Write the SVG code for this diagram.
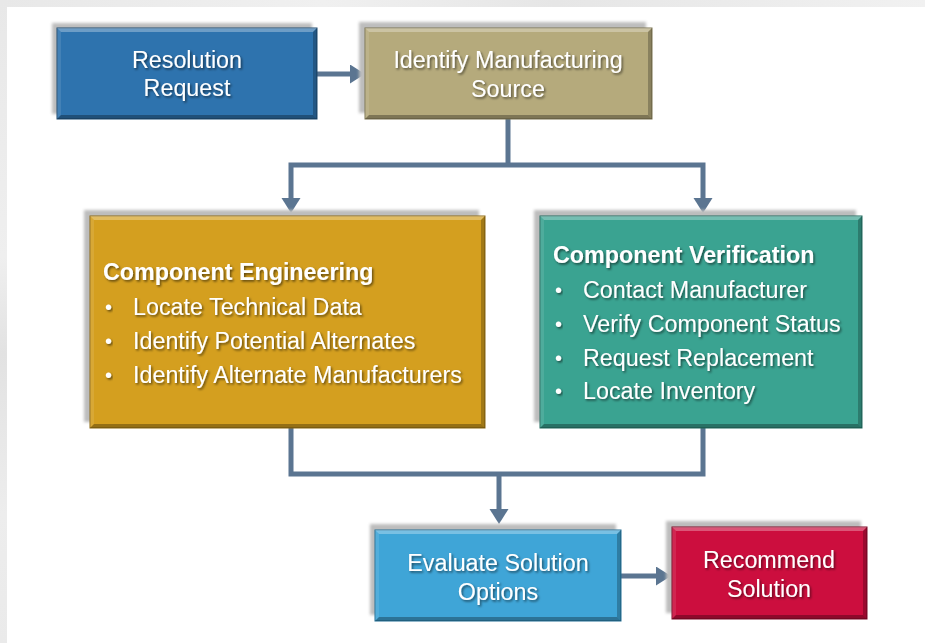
<svg xmlns="http://www.w3.org/2000/svg" width="925" height="643" viewBox="0 0 925 643">
  <style>
    .shadow { fill: #bdbdbd; filter: url(#soft); }
    .hi { fill: #ffffff; opacity: 0.30; }
    .hi2 { fill: #ffffff; opacity: 0.10; }
    .lo { fill: #000000; opacity: 0.30; }
    .lo2 { fill: #000000; opacity: 0.24; }
    .label { font-family: "Liberation Sans", Arial, sans-serif; font-size: 23.3px; fill: #ffffff; filter: url(#txtShadow); }
    .dot { font-size: 20px; }
    .mid { text-anchor: middle; }
    .head { font-weight: bold; }
    .wire { fill: none; stroke: #5b7591; stroke-width: 5; }
    .arrow { marker-end: url(#head); }
  </style>
  <defs>
    <filter id="soft" x="-5%" y="-5%" width="110%" height="110%">
      <feGaussianBlur stdDeviation="1.4"/>
    </filter>
    <filter id="txtShadow" x="-5%" y="-20%" width="110%" height="150%">
      <feDropShadow dx="1.4" dy="1.6" stdDeviation="0.9" flood-color="#000000" flood-opacity="0.55"/>
    </filter>
    <marker id="head" markerUnits="userSpaceOnUse" markerWidth="17" markerHeight="20" refX="2" refY="9.5" orient="auto-start-reverse">
      <path d="M0,0 L15,9.5 L0,19 Z" fill="#5b7591"/>
    </marker>
    <linearGradient id="topBand" x1="0" y1="0" x2="1" y2="0">
      <stop offset="0" stop-color="#e8e8e8"/>
      <stop offset="0.35" stop-color="#f0f0f0"/>
      <stop offset="0.6" stop-color="#e6e6e6"/>
      <stop offset="1" stop-color="#f1f1f1"/>
    </linearGradient>
    <linearGradient id="leftBand" x1="0" y1="0" x2="0" y2="1">
      <stop offset="0" stop-color="#e8e8e8"/>
      <stop offset="0.4" stop-color="#efefef"/>
      <stop offset="0.55" stop-color="#e2e2e2"/>
      <stop offset="0.8" stop-color="#ededed"/>
      <stop offset="1" stop-color="#eaeaea"/>
    </linearGradient>
  </defs>

  <!-- page -->
  <rect x="0" y="0" width="925" height="643" fill="#ffffff"/>
  <rect x="0" y="0" width="925" height="7" fill="url(#topBand)"/>
  <rect x="0" y="0" width="7" height="643" fill="url(#leftBand)"/>

  <!-- connectors -->
  <g id="connectors">
    <path class="wire arrow" d="M317,74 H352"/>
    <path class="wire" d="M508,119 V165"/>
    <path class="wire" d="M291,200 V165 H703 V200" marker-start="url(#head)" marker-end="url(#head)"/>
    <path class="wire" d="M291,428 V474 H703 V428"/>
    <path class="wire arrow" d="M499,472 V511"/>
    <path class="wire arrow" d="M621,576 H658"/>
  </g>

  <!-- Resolution Request -->
  <g id="resolution-request">
    <rect class="shadow" x="52" y="23" width="260" height="91"/>
    <rect x="57" y="28" width="260" height="91" fill="#2e73ae" stroke="#1d4a70" stroke-width="1"/>
    <polygon class="hi" points="57,28 317,28 313,32 61,32"/>
    <polygon class="hi2" points="57,28 61,32 61,115 57,119"/>
    <polygon class="lo" points="57,119 61,115 313,115 317,119"/>
    <polygon class="lo2" points="317,28 317,119 313,115 313,32"/>
    <text class="label mid" x="187" y="68">Resolution</text>
    <text class="label mid" x="187" y="96">Request</text>
  </g>

  <!-- Identify Manufacturing Source -->
  <g id="identify-source">
    <rect class="shadow" x="359" y="22" width="287" height="91"/>
    <rect x="365" y="28" width="287" height="91" fill="#b5aa7c" stroke="#7d7550" stroke-width="1"/>
    <polygon class="hi" points="365,28 652,28 648,32 369,32"/>
    <polygon class="hi2" points="365,28 369,32 369,115 365,119"/>
    <polygon class="lo" points="365,119 369,115 648,115 652,119"/>
    <polygon class="lo2" points="652,28 652,119 648,115 648,32"/>
    <text class="label mid" x="508" y="68">Identify Manufacturing</text>
    <text class="label mid" x="508" y="97">Source</text>
  </g>

  <!-- Component Engineering -->
  <g id="component-engineering">
    <rect class="shadow" x="84" y="210" width="395" height="212"/>
    <rect x="90" y="216" width="395" height="212" fill="#d49f1f" stroke="#8c6812" stroke-width="1"/>
    <polygon class="hi" points="90,216 485,216 481,220 94,220"/>
    <polygon class="hi2" points="90,216 94,220 94,424 90,428"/>
    <polygon class="lo" points="90,428 94,424 481,424 485,428"/>
    <polygon class="lo2" points="485,216 485,428 481,424 481,220"/>
    <text class="label head" x="103" y="280">Component Engineering</text>
    <text class="label dot" x="105" y="314">•</text>
    <text class="label" x="133" y="315">Locate Technical Data</text>
    <text class="label dot" x="105" y="348">•</text>
    <text class="label" x="133" y="349">Identify Potential Alternates</text>
    <text class="label dot" x="105" y="382">•</text>
    <text class="label" x="133" y="383">Identify Alternate Manufacturers</text>
  </g>

  <!-- Component Verification -->
  <g id="component-verification">
    <rect class="shadow" x="534" y="210" width="322" height="212"/>
    <rect x="540" y="216" width="322" height="212" fill="#3aa391" stroke="#206b5e" stroke-width="1"/>
    <polygon class="hi" points="540,216 862,216 858,220 544,220"/>
    <polygon class="hi2" points="540,216 544,220 544,424 540,428"/>
    <polygon class="lo" points="540,428 544,424 858,424 862,428"/>
    <polygon class="lo2" points="862,216 862,428 858,424 858,220"/>
    <text class="label head" x="553" y="263">Component Verification</text>
    <text class="label dot" x="555" y="297">•</text>
    <text class="label" x="583" y="298">Contact Manufacturer</text>
    <text class="label dot" x="555" y="331">•</text>
    <text class="label" x="583" y="332">Verify Component Status</text>
    <text class="label dot" x="555" y="365">•</text>
    <text class="label" x="583" y="366">Request Replacement</text>
    <text class="label dot" x="555" y="398">•</text>
    <text class="label" x="583" y="399">Locate Inventory</text>
  </g>

  <!-- Evaluate Solution Options -->
  <g id="evaluate-options">
    <rect class="shadow" x="370" y="524" width="246" height="91"/>
    <rect x="375" y="530" width="246" height="91" fill="#3fa5d7" stroke="#236f95" stroke-width="1"/>
    <polygon class="hi" points="375,530 621,530 617,534 379,534"/>
    <polygon class="hi2" points="375,530 379,534 379,617 375,621"/>
    <polygon class="lo" points="375,621 379,617 617,617 621,621"/>
    <polygon class="lo2" points="621,530 621,621 617,617 617,534"/>
    <text class="label mid" x="498" y="571">Evaluate Solution</text>
    <text class="label mid" x="498" y="600">Options</text>
  </g>

  <!-- Recommend Solution -->
  <g id="recommend-solution">
    <rect class="shadow" x="666" y="521" width="195" height="92"/>
    <rect x="672" y="527" width="195" height="92" fill="#cc0e3e" stroke="#7e0826" stroke-width="1"/>
    <polygon class="hi" points="672,527 867,527 863,531 676,531"/>
    <polygon class="hi2" points="672,527 676,531 676,615 672,619"/>
    <polygon class="lo" points="672,619 676,615 863,615 867,619"/>
    <polygon class="lo2" points="867,527 867,619 863,615 863,531"/>
    <text class="label mid" x="769" y="568">Recommend</text>
    <text class="label mid" x="769" y="597">Solution</text>
  </g>
</svg>
